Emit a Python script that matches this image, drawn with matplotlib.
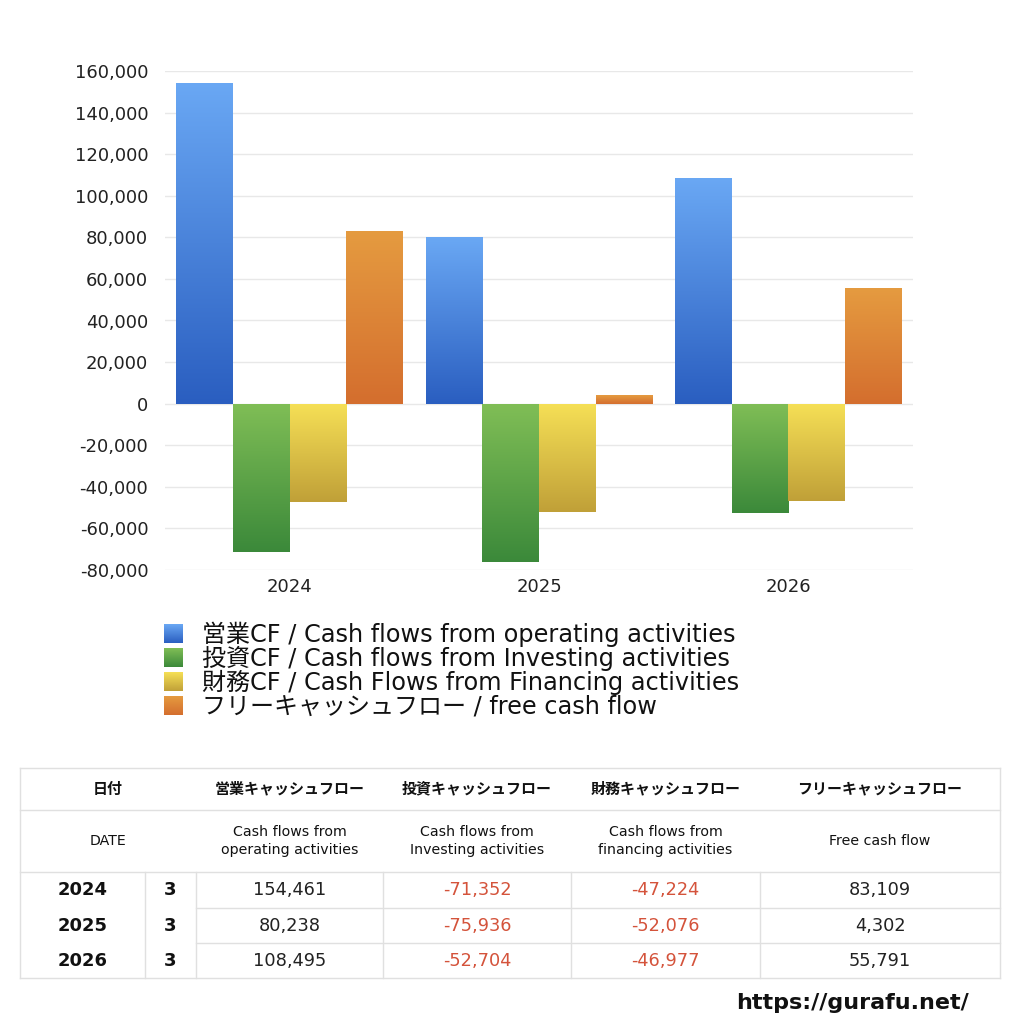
import numpy as np
import matplotlib
matplotlib.use("Agg")
import matplotlib.pyplot as plt
from matplotlib.colors import to_rgb

plt.rcParams['font.family'] = ['DejaVu Sans', 'Noto Sans CJK JP']

# ---------------- data ----------------
years = ["2024", "2025", "2026"]
months = ["3", "3", "3"]
operating_cf = [154461, 80238, 108495]
investing_cf = [-71352, -75936, -52704]
financing_cf = [-47224, -52076, -46977]
free_cf = [83109, 4302, 55791]

series_labels = [
    "営業CF / Cash flows from operating activities",
    "投資CF / Cash flows from Investing activities",
    "財務CF / Cash Flows from Financing activities",
    "フリーキャッシュフロー / free cash flow",
]
yticks = [-80000, -60000, -40000, -20000, 0, 20000, 40000, 60000, 80000,
          100000, 120000, 140000, 160000]

table_head_jp = ["日付", "営業キャッシュフロー", "投資キャッシュフロー",
                 "財務キャッシュフロー", "フリーキャッシュフロー"]
table_head_en = ["DATE", "Cash flows from\noperating activities",
                 "Cash flows from\nInvesting activities",
                 "Cash flows from\nfinancing activities", "Free cash flow"]
url_text = "https://gurafu.net/"

# gradient colours (top, bottom)
grads = [("#6aa8f4", "#2a5ec0"),
         ("#80be56", "#3b893a"),
         ("#f6e056", "#c0a038"),
         ("#e59b40", "#d46e2e")]

series = [operating_cf, investing_cf, financing_cf, free_cf]

fig = plt.figure(figsize=(10.24, 10.24), dpi=100)
W = 1024.0
ax = fig.add_axes([165 / W, 1 - 570 / W, 748 / W, 499 / W])

x = np.arange(len(years))
w = 0.2276


def grad_img(top, bot, n=512):
    t = np.linspace(0, 1, n)[:, None]
    c1 = np.array(to_rgb(top))
    c2 = np.array(to_rgb(bot))
    return (c1[None, :] * (1 - t) + c2[None, :] * t)[:, None, :]


for i, (vals, (ctop, cbot)) in enumerate(zip(series, grads)):
    bars = ax.bar(x + (i - 1.5) * w, vals, w, color='none', edgecolor='none',
                  zorder=2)
    img = grad_img(ctop, cbot)
    for p in bars.patches:
        x0 = p.get_x()
        x1 = x0 + p.get_width()
        y0 = min(p.get_y(), p.get_y() + p.get_height())
        y1 = max(p.get_y(), p.get_y() + p.get_height())
        im = ax.imshow(img, extent=(x0, x1, y0, y1), origin='upper',
                       aspect='auto', zorder=2, interpolation='bilinear')
        im.set_clip_path(p)

ax.set_xlim(-0.5, len(years) - 0.5)
ax.set_ylim(min(yticks), max(yticks))
ax.set_yticks(yticks)
ax.set_yticklabels([f"{v:,}" for v in yticks])
ax.set_xticks(x)
ax.set_xticklabels(years)
ax.tick_params(length=0, labelsize=13, colors='#222222')
ax.tick_params(axis='y', pad=12)
ax.tick_params(axis='x', pad=6)
ax.grid(axis='y', color='#e8e8e8', lw=1, zorder=0)
ax.set_axisbelow(True)
for s in ax.spines.values():
    s.set_visible(False)

# ---------------- overlay (pixel coords) ----------------
ov = fig.add_axes([0, 0, 1, 1], zorder=-1)
ov.axis('off')

# legend
for i, (lab, (ctop, cbot)) in enumerate(zip(series_labels, grads)):
    cy = 634 + 24 * i
    ov.imshow(grad_img(ctop, cbot), extent=(164, 183, cy + 9.5, cy - 9.5),
              origin='upper', aspect='auto', interpolation='bilinear')
    ov.text(202, cy, lab, fontsize=17.3, va='center', ha='left', color='#111111')
ov.set_xlim(0, W)
ov.set_ylim(W, 0)

# table
lc = '#e0e0e0'
L, R = 20, 1000
colx = [20, 145, 196, 383, 571, 760, 1000]
for yy in [768, 810, 872, 978]:
    ov.plot([L, R], [yy, yy], color=lc, lw=1)
for yy in [908, 943]:
    ov.plot([196, R], [yy, yy], color=lc, lw=1)
ov.plot([L, L], [768, 978], color=lc, lw=1)
ov.plot([R, R], [768, 978], color=lc, lw=1)
for xx in colx[1:-1]:
    ov.plot([xx, xx], [872, 978], color=lc, lw=1)

head_cx = [108, 289.5, 477, 665.5, 880]
for cx, t in zip(head_cx, table_head_jp):
    ov.text(cx, 789, t, fontsize=10.8, fontweight='bold', ha='center',
            va='center', color='#111111')
for cx, t in zip(head_cx, table_head_en):
    ov.text(cx, 841, t, fontsize=10.2, ha='center', va='center',
            color='#111111', linespacing=1.35)

row_cy = [890, 926, 961]
val_cx = [289.5, 477, 665.5, 880]
for r in range(len(years)):
    cy = row_cy[r]
    ov.text(83, cy, years[r], fontsize=13, fontweight='bold', ha='center',
            va='center', color='#111111')
    ov.text(170.5, cy, months[r], fontsize=13, fontweight='bold', ha='center',
            va='center', color='#111111')
    for cx, vals in zip(val_cx, series):
        v = vals[r]
        ov.text(cx, cy, f"{v:,}", fontsize=12.8, ha='center', va='center',
                color='#d4533b' if v < 0 else '#222222')

ov.text(852, 1003, url_text, fontsize=16, fontweight='bold', ha='center',
        va='center', color='#111111')

fig.savefig("out.png", dpi=100)
